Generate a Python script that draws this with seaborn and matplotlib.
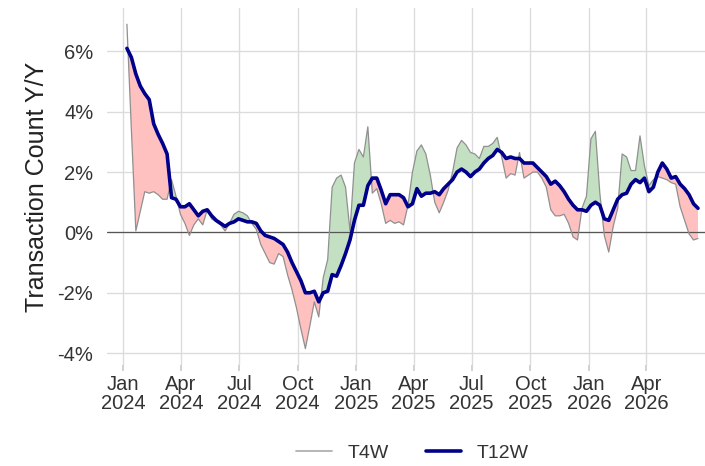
import numpy as np
import pandas as pd
import matplotlib
matplotlib.use("Agg")
import matplotlib.pyplot as plt
import matplotlib.dates as mdates
from matplotlib.lines import Line2D
import seaborn as sns

start_date = "2024-01-07"
t12w = [6.1, 5.8, 5.25, 4.85, 4.6, 4.4, 3.6, 3.25, 2.95, 2.6,
        1.15, 1.1, 0.85, 0.85, 0.95, 0.75, 0.55, 0.7, 0.75, 0.55,
        0.4, 0.3, 0.2, 0.3, 0.35, 0.45, 0.4, 0.35, 0.35, 0.3,
        0.05, -0.1, -0.15, -0.2, -0.3, -0.4, -0.65, -1.0, -1.3, -1.6,
        -2.0, -2.0, -1.95, -2.3, -2.0, -1.95, -1.4, -1.45, -1.1, -0.7,
        -0.25, 0.4, 0.9, 0.9, 1.55, 1.8, 1.8, 1.4, 0.95, 1.25,
        1.25, 1.25, 1.15, 0.85, 0.95, 1.45, 1.2, 1.3, 1.3, 1.35,
        1.25, 1.45, 1.6, 1.75, 2.0, 2.1, 2.0, 1.85, 2.0, 2.1,
        2.3, 2.45, 2.55, 2.75, 2.65, 2.45, 2.5, 2.45, 2.45, 2.3,
        2.3, 2.3, 2.15, 2.0, 1.85, 1.6, 1.7, 1.55, 1.35, 1.1,
        0.9, 0.75, 0.75, 0.7, 0.9, 1.0, 0.9, 0.45, 0.4, 0.75,
        1.1, 1.25, 1.3, 1.6, 1.75, 1.65, 1.8, 1.35, 1.5, 2.0,
        2.3, 2.1, 1.8, 1.85, 1.6, 1.45, 1.25, 0.95, 0.8]
t4w = [6.9, 3.4, 0.05, 0.7, 1.35, 1.3, 1.35, 1.25, 1.1, 1.1,
       1.75, 1.2, 0.6, 0.3, -0.1, 0.25, 0.45, 0.25, 0.75, 0.45,
       0.35, 0.25, 0.05, 0.3, 0.6, 0.7, 0.65, 0.55, 0.3, 0.1,
       -0.4, -0.7, -1.0, -1.05, -0.7, -0.8, -1.4, -1.9, -2.5, -3.2,
       -3.85, -3.1, -2.3, -2.8, -1.5, -0.9, 1.5, 1.8, 1.9, 1.5,
       0.05, 2.3, 2.75, 2.5, 3.5, 1.3, 1.45, 0.95, 0.3, 0.4,
       0.3, 0.35, 0.25, 0.9, 2.0, 2.7, 2.9, 2.6, 1.9, 1.0,
       0.65, 1.0, 1.4, 2.0, 2.8, 3.05, 2.9, 2.65, 2.6, 2.45,
       2.85, 2.85, 2.95, 3.15, 2.5, 1.8, 1.95, 1.9, 2.65, 1.8,
       1.9, 2.0, 2.0, 1.8, 1.5, 0.75, 0.55, 0.55, 0.6, 0.3,
       -0.15, -0.25, 0.8, 1.2, 3.1, 3.35, 1.3, -0.1, -0.65, 0.2,
       0.8, 2.6, 2.5, 2.05, 2.05, 3.2, 2.2, 1.55, 1.75, 1.85,
       1.8, 1.75, 1.65, 1.6, 0.85, 0.4, -0.05, -0.25, -0.2]
tick_dates = ["2024-01-01", "2024-04-01", "2024-07-01", "2024-10-01",
              "2025-01-01", "2025-04-01", "2025-07-01", "2025-10-01",
              "2026-01-01", "2026-04-01"]
tick_labels = ["Jan\n2024", "Apr\n2024", "Jul\n2024", "Oct\n2024",
               "Jan\n2025", "Apr\n2025", "Jul\n2025", "Oct\n2025",
               "Jan\n2026", "Apr\n2026"]
y_ticks = [-4, -2, 0, 2, 4, 6]

dates = pd.date_range(start_date, periods=len(t12w), freq="7D")
df = pd.DataFrame({"date": dates, "T4W": t4w, "T12W": t12w})

sns.set_theme(style="whitegrid")
plt.rcParams["font.family"] = ["Liberation Sans", "DejaVu Sans"]

fig = plt.figure(figsize=(7.05, 4.66), dpi=100)
ax = fig.add_axes([0.152, 0.217, 0.848, 0.766])

x = mdates.date2num(df["date"])
a = df["T4W"].to_numpy()
b = df["T12W"].to_numpy()
ax.fill_between(x, a, b, where=a >= b, interpolate=True, color="#c3e0c3", lw=0)
ax.fill_between(x, a, b, where=a < b, interpolate=True, color="#ffc0c0", lw=0)
ax.axhline(0, color="#555555", lw=0.9, zorder=2)

sns.lineplot(data=df, x="date", y="T4W", ax=ax, color="#909090", lw=0.9, zorder=3)
sns.lineplot(data=df, x="date", y="T12W", ax=ax, color="#00008b", lw=2.6, zorder=4)

ax.set_xlim(pd.Timestamp("2023-12-07"), pd.Timestamp("2026-07-02"))
ax.set_ylim(-4.39, 7.44)
ax.set_xticks(pd.to_datetime(tick_dates))
ax.set_xticklabels(tick_labels, linespacing=1.05)
ax.set_yticks(y_ticks)
ax.set_yticklabels([f"{v}%" for v in y_ticks])
ax.tick_params(axis="both", labelsize=14.5, colors="#333333", labelcolor="#333333")
ax.tick_params(axis="x", bottom=True, length=4, color="#cccccc", pad=3)
ax.tick_params(axis="y", left=False, pad=4)
ax.grid(True, color="#dcdcdc", lw=1.0)
ax.set_xlabel("")
ax.set_ylabel("Transaction Count Y/Y", fontsize=18, color="#222222", labelpad=6)
for s in ax.spines.values():
    s.set_visible(False)

handles = [Line2D([], [], color="#b0b0b0", lw=1.3),
           Line2D([], [], color="#00008b", lw=2.6)]
fig.legend(handles, ["T4W", "T12W"], loc="center", bbox_to_anchor=(0.585, 0.028),
           ncol=2, frameon=False, fontsize=14, handlelength=1.85, handletextpad=0.8,
           columnspacing=1.9, labelcolor="#333333")

fig.savefig("out.png", dpi=100)
